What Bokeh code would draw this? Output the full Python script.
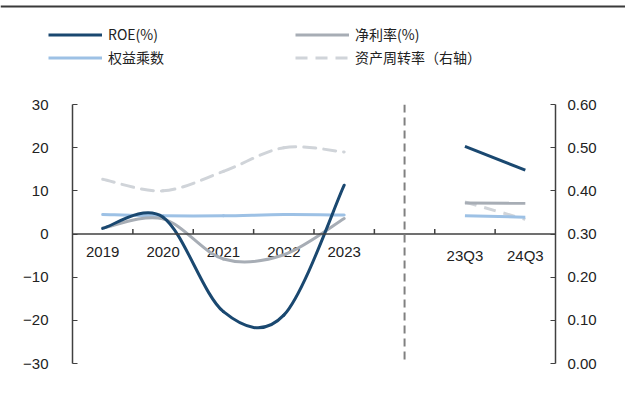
import numpy as np
from bokeh.plotting import figure
from bokeh.models import (Range1d, LinearAxis, Span, Legend, LegendItem,
                          FixedTicker, PrintfTickFormatter, ColumnDataSource)
from bokeh.core.properties import value
from bokeh.embed import file_html
from bokeh.resources import INLINE

# ---------------- data ----------------
categories = ["2019", "2020", "2021", "2022", "2023", "", "23Q3", "24Q3"]
annual_idx = [0, 1, 2, 3, 4]
quarter_idx = [6, 7]

roe_annual = [1.3, 3.9, -18.0, -18.8, 11.3]
roe_quarter = [20.3, 14.8]
margin_annual = [1.4, 3.5, -5.8, -4.8, 3.6]
margin_quarter = [7.2, 7.1]
multiplier_annual = [4.5, 4.2, 4.2, 4.5, 4.4]
multiplier_quarter = [4.2, 3.9]
turnover_annual = [0.427, 0.400, 0.445, 0.500, 0.490]
turnover_quarter = [0.374, 0.334]

left_ticks = [-30, -20, -10, 0, 10, 20, 30]
right_ticks = [0.0, 0.1, 0.2, 0.3, 0.4, 0.5, 0.6]

series_names = ["ROE(%)", "权益乘数", "净利率(%)", "资产周转率（右轴）"]

# ---------------- colours / fonts ----------------
C_ROE = "#1a4870"
C_MARGIN = "#a7adb5"
C_MULT = "#9dc1e5"
C_TURN = "#d0d4d9"
C_AXIS = "#404040"
NUM_FONT = "Liberation Sans"
CJK_FONT = "Noto Sans CJK SC"
TURN_DASH = "12 8"

W = 625
LEG_H = 85
MAIN_H = 403 - LEG_H

# ---------------- legend strip ----------------
lg = figure(width=W, height=LEG_H, output_backend="svg", toolbar_location=None,
            x_range=Range1d(0, W), y_range=Range1d(0, LEG_H),
            min_border=0, min_border_left=0, min_border_right=0,
            min_border_top=0, min_border_bottom=0)
lg.axis.visible = False
lg.grid.visible = False
lg.outline_line_color = None
lg.add_layout(Span(location=LEG_H - 6, dimension="width", line_color="#3a3a3a", line_width=2))

far = dict(x=[-100, -90], y=[-100, -100])
d_roe = lg.line(x=far["x"], y=far["y"], line_color=C_ROE, line_width=3)
d_mult = lg.line(x=far["x"], y=far["y"], line_color=C_MULT, line_width=3)
d_margin = lg.line(x=far["x"], y=far["y"], line_color=C_MARGIN, line_width=3)
d_turn = lg.line(x=far["x"], y=far["y"], line_color=C_TURN, line_width=3, line_dash=TURN_DASH)

legend = Legend(items=[
    LegendItem(label=series_names[0], renderers=[d_roe]),
    LegendItem(label=series_names[1], renderers=[d_mult]),
    LegendItem(label=series_names[2], renderers=[d_margin]),
    LegendItem(label=series_names[3], renderers=[d_turn]),
], location=(48, LEG_H - 67), nrows=2, orientation="vertical",
    glyph_width=54, glyph_height=15, label_height=15, label_width=184, label_standoff=6,
    spacing=3, padding=0, margin=0, border_line_alpha=0, background_fill_alpha=0,
    label_text_font=CJK_FONT, label_text_font_size="14px", label_text_color="#222222")
lg.add_layout(legend, "center")

# ---------------- main chart ----------------
p = figure(width=W, height=MAIN_H, output_backend="svg", toolbar_location=None,
           x_range=Range1d(0, len(categories)), y_range=Range1d(left_ticks[0], left_ticks[-1]),
           min_border_left=72, min_border_right=70, min_border_top=104 - LEG_H,
           min_border_bottom=40)
p.extra_y_ranges = {"right": Range1d(right_ticks[0], right_ticks[-1])}
p.xaxis.visible = False
p.xgrid.visible = False
p.ygrid.visible = False
p.outline_line_color = None

ya = p.yaxis[0]
ya.ticker = FixedTicker(ticks=left_ticks)
ya.axis_line_color = C_AXIS
ya.axis_line_width = 1.5
ya.major_tick_line_color = C_AXIS
ya.major_tick_in = 5
ya.major_tick_out = 0
ya.minor_tick_line_color = None
ya.major_label_standoff = 24
ya.major_label_text_font = NUM_FONT
ya.major_label_text_font_size = "15px"
ya.major_label_text_color = "#222222"

ra = LinearAxis(y_range_name="right", ticker=FixedTicker(ticks=right_ticks),
                formatter=PrintfTickFormatter(format="%.2f"))
ra.axis_line_color = C_AXIS
ra.axis_line_width = 1.5
ra.major_tick_line_color = C_AXIS
ra.major_tick_in = 5
ra.major_tick_out = 0
ra.minor_tick_line_color = None
ra.major_label_standoff = 12
ra.major_label_text_font = NUM_FONT
ra.major_label_text_font_size = "15px"
ra.major_label_text_color = "#222222"
p.add_layout(ra, "right")

# x axis drawn at y = 0
centers = np.arange(len(categories)) + 0.5
p.add_layout(Span(location=0, dimension="width", line_color=C_AXIS, line_width=1.5))
bounds = np.arange(1, len(categories))
tick_len = (left_ticks[-1] - left_ticks[0]) / 259 * 5
p.segment(x0=bounds, y0=np.zeros(len(bounds)), x1=bounds, y1=np.full(len(bounds), tick_len),
          line_color=C_AXIS, line_width=1.5)
lab_src = ColumnDataSource(dict(x=centers, y=np.zeros(len(categories)), t=categories))
p.text(x="x", y="y", text="t", source=lab_src, text_align="center", text_baseline="top",
       y_offset=13, text_font=value(NUM_FONT), text_font_size="15px", text_color="#222222")

# separator
p.add_layout(Span(location=centers[5], dimension="height", line_color="#808080",
                  line_width=2, line_dash="8 5"))


def smooth(xs, ys):
    xs = list(xs); ys = list(ys); n = len(xs)
    d = dict(x0=[], y0=[], x1=[], y1=[], cx0=[], cy0=[], cx1=[], cy1=[])
    for i in range(n - 1):
        xp, yp = (xs[i - 1], ys[i - 1]) if i > 0 else (xs[i], ys[i])
        xn, yn = (xs[i + 2], ys[i + 2]) if i + 2 < n else (xs[i + 1], ys[i + 1])
        d["x0"].append(xs[i]); d["y0"].append(ys[i])
        d["x1"].append(xs[i + 1]); d["y1"].append(ys[i + 1])
        d["cx0"].append(xs[i] + (xs[i + 1] - xp) / 6); d["cy0"].append(ys[i] + (ys[i + 1] - yp) / 6)
        d["cx1"].append(xs[i + 1] - (xn - xs[i]) / 6); d["cy1"].append(ys[i + 1] - (yn - ys[i]) / 6)
    return ColumnDataSource(d)


xa = centers[annual_idx]
xq = centers[quarter_idx]


def series(ya_vals, yq_vals, color, dash="solid", rng="default"):
    p.bezier(x0="x0", y0="y0", x1="x1", y1="y1", cx0="cx0", cy0="cy0", cx1="cx1", cy1="cy1",
             source=smooth(xa, ya_vals), line_color=color, line_width=3, line_dash=dash,
             line_cap="round", y_range_name=rng)
    p.line(xq, yq_vals, line_color=color, line_width=3, line_dash=dash, y_range_name=rng)


series(turnover_annual, turnover_quarter, C_TURN, dash=TURN_DASH, rng="right")
series(multiplier_annual, multiplier_quarter, C_MULT)
series(margin_annual, margin_quarter, C_MARGIN)
series(roe_annual, roe_quarter, C_ROE)

html = file_html([lg, p], INLINE)
html = html.replace("<body>", "<body style=\"margin:0\">", 1)
open("out.html", "w").write(html)
